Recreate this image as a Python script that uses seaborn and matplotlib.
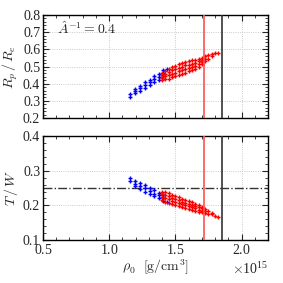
import numpy as np
import pandas as pd
import seaborn as sns
import matplotlib
matplotlib.use("Agg")
import matplotlib.pyplot as plt
from matplotlib.ticker import MultipleLocator, ScalarFormatter

# central density (units of 1e15 g/cm^3), axis ratio, T/W
rho_blue = [1.155, 1.155,
            1.195, 1.195, 1.195,
            1.233, 1.233, 1.233,
            1.270, 1.270, 1.270,
            1.305, 1.305, 1.305,
            1.340, 1.340, 1.340,
            1.375, 1.375, 1.375,
            1.408, 1.408, 1.408,
            1.435]
rp_blue = [0.325, 0.338,
           0.343, 0.357, 0.370,
           0.356, 0.372, 0.388,
           0.376, 0.392, 0.408,
           0.390, 0.407, 0.424,
           0.410, 0.427, 0.444,
           0.424, 0.441, 0.458,
           0.444, 0.462, 0.478,
           0.488]
tw_blue = [0.279, 0.270,
           0.270, 0.262, 0.255,
           0.264, 0.255, 0.247,
           0.258, 0.249, 0.240,
           0.251, 0.242, 0.233,
           0.243, 0.234, 0.226,
           0.237, 0.229, 0.221,
           0.229, 0.222, 0.214,
           0.210]

rho_red = [1.400, 1.400, 1.400, 1.400,
           1.425, 1.425, 1.425, 1.425,
           1.450, 1.450, 1.450, 1.450,
           1.475, 1.475, 1.475, 1.475,
           1.500, 1.500, 1.500, 1.500,
           1.525, 1.525, 1.525, 1.525,
           1.550, 1.550, 1.550, 1.550,
           1.575, 1.575, 1.575, 1.575,
           1.600, 1.600, 1.600, 1.600,
           1.625, 1.625, 1.625, 1.625,
           1.650, 1.650, 1.650, 1.650,
           1.675, 1.675, 1.675, 1.675,
           1.700, 1.700, 1.700, 1.700,
           1.725, 1.725, 1.725,
           1.750, 1.750,
           1.775, 1.775,
           1.800,
           1.825]
rp_red = [0.420, 0.435, 0.450, 0.465,
          0.425, 0.442, 0.458, 0.475,
          0.430, 0.449, 0.468, 0.487,
          0.438, 0.458, 0.477, 0.497,
          0.445, 0.465, 0.485, 0.505,
          0.450, 0.471, 0.491, 0.512,
          0.458, 0.479, 0.499, 0.520,
          0.465, 0.485, 0.506, 0.526,
          0.472, 0.491, 0.511, 0.530,
          0.478, 0.497, 0.516, 0.535,
          0.486, 0.504, 0.522, 0.540,
          0.500, 0.515, 0.531, 0.546,
          0.513, 0.526, 0.539, 0.552,
          0.530, 0.545, 0.560,
          0.545, 0.566,
          0.560, 0.570,
          0.580,
          0.580]
tw_red = [0.240, 0.232, 0.223, 0.215,
          0.238, 0.229, 0.220, 0.211,
          0.235, 0.226, 0.217, 0.208,
          0.231, 0.222, 0.213, 0.204,
          0.227, 0.218, 0.210, 0.201,
          0.223, 0.215, 0.206, 0.198,
          0.219, 0.211, 0.204, 0.196,
          0.215, 0.208, 0.200, 0.193,
          0.212, 0.205, 0.197, 0.190,
          0.209, 0.202, 0.194, 0.187,
          0.205, 0.198, 0.192, 0.185,
          0.200, 0.194, 0.188, 0.182,
          0.196, 0.191, 0.185, 0.180,
          0.190, 0.183, 0.177,
          0.183, 0.176,
          0.178, 0.174,
          0.168,
          0.166]

rho_red_line = 1.72   # 1e15 g/cm^3
rho_black_line = 1.85
tw_crit = 0.25

blue = pd.DataFrame({"rho": np.array(rho_blue) * 1e15, "rp": rp_blue, "tw": tw_blue})
red = pd.DataFrame({"rho": np.array(rho_red) * 1e15, "rp": rp_red, "tw": tw_red})

sns.set_style("ticks")
plt.rcParams['font.family'] = ['Liberation Serif', 'DejaVu Serif']
plt.rcParams['mathtext.fontset'] = 'cm'
plt.rcParams['font.size'] = 10

fig = plt.figure(figsize=(2.83, 2.83), dpi=100)
ax1 = fig.add_axes([0.152, 0.583, 0.795, 0.364])
ax2 = fig.add_axes([0.152, 0.152, 0.795, 0.367])

for ax, col in [(ax1, "rp"), (ax2, "tw")]:
    ax.grid(True, which="major", color="#bbbbbb", linestyle=":", linewidth=0.6)
    sns.scatterplot(data=blue, x="rho", y=col, marker="+", color="#0000ff",
                    s=9, linewidth=1.0, ax=ax, zorder=3)
    sns.scatterplot(data=red, x="rho", y=col, marker="+", color="#ff0000",
                    s=9, linewidth=1.0, ax=ax, zorder=3)
    ax.axvline(rho_red_line * 1e15, color="#ff5050", lw=1.2, zorder=4)
    ax.axvline(rho_black_line * 1e15, color="#333333", lw=1.2, zorder=4)
    ax.set_xlim(0.5e15, 2.2e15)
    fmt = ScalarFormatter(useMathText=True)
    ax.xaxis.set_major_formatter(fmt)
    ax.xaxis.set_major_locator(MultipleLocator(0.5e15))
    ax.xaxis.set_minor_locator(MultipleLocator(0.1e15))
    ax.yaxis.set_major_locator(MultipleLocator(0.1))
    ax.yaxis.set_minor_locator(MultipleLocator(0.02))
    ax.tick_params(which="both", direction="in", top=True, right=True, labelsize=10, pad=2)
    ax.tick_params(which="major", length=4, width=0.8)
    ax.tick_params(which="minor", length=2, width=0.6)
    for sp in ax.spines.values():
        sp.set_linewidth(1.0)
        sp.set_color("black")

ax1.set_ylim(0.2, 0.8)
ax1.set_xlabel("")
ax1.set_ylabel(r"$R_p\,/\,R_e$", fontsize=10, labelpad=2)
ax1.tick_params(labelbottom=False)
ax1.xaxis.offsetText.set_visible(False)
ax1.text(0.06, 0.82, r"$\hat{A}^{-1} = 0.4$", transform=ax1.transAxes, fontsize=10)

ax2.set_ylim(0.1, 0.4)
ax2.axhline(tw_crit, color="#333333", lw=1.0, linestyle="-.", zorder=2)
ax2.set_ylabel(r"$T\,/\,W$", fontsize=10, labelpad=2)
ax2.set_xlabel(r"$\rho_0\ \ [\mathrm{g/cm^3}]$", fontsize=10, labelpad=1)
ax2.xaxis.offsetText.set_fontsize(10)

fig.savefig("out.png", dpi=100)
